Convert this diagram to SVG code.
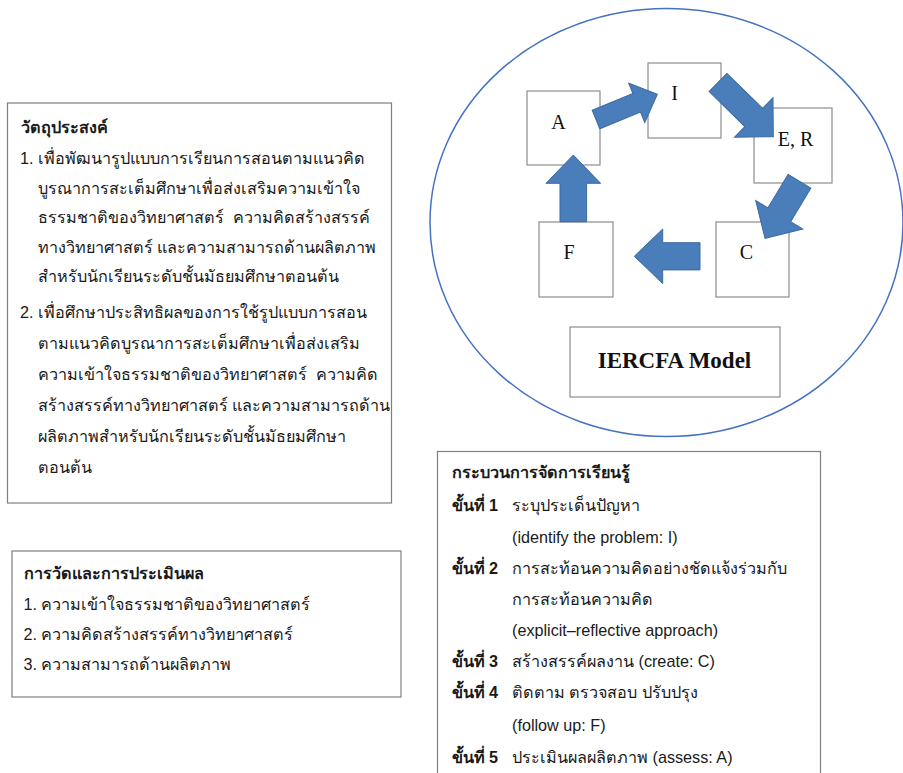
<svg xmlns="http://www.w3.org/2000/svg" width="903" height="773" viewBox="0 0 903 773">
<style>
.box{fill:#fff;stroke:#7f7f7f;stroke-width:1.2}
.sq{fill:#fff;stroke:#8c8c8c;stroke-width:1.2}
.t{font-family:"Liberation Sans","Noto Sans",sans-serif;font-size:16.2px;fill:#1a1a1a;white-space:pre}
.b{font-weight:bold}
.s{font-family:"Liberation Serif",serif;font-size:20px;fill:#111;text-anchor:middle}
.arr{fill:#4a7ebb;stroke:#3c69a0;stroke-width:1}
</style>
<rect width="903" height="773" fill="#fff"/>
<ellipse id="model-circle" cx="666.5" cy="222.5" rx="236.5" ry="214" fill="none" stroke="#4472c4" stroke-width="1.5"/>
<g id="objectives">
<rect class="box" x="7.5" y="103" width="384" height="400"/>
<text class="t b" x="21" y="133">วัตถุประสงค์</text>
<text class="t" x="20" y="164">1. เพื่อพัฒนารูปแบบการเรียนการสอนตามแนวคิด</text>
<text class="t" x="38" y="193.5">บูรณาการสะเต็มศึกษาเพื่อส่งเสริมความเข้าใจ</text>
<text class="t" x="38" y="223">ธรรมชาติของวิทยาศาสตร์  ความคิดสร้างสรรค์</text>
<text class="t" x="38" y="252.5">ทางวิทยาศาสตร์ และความสามารถด้านผลิตภาพ</text>
<text class="t" x="38" y="282">สำหรับนักเรียนระดับชั้นมัธยมศึกษาตอนต้น</text>
<text class="t" x="20" y="318">2. เพื่อศึกษาประสิทธิผลของการใช้รูปแบบการสอน</text>
<text class="t" x="38" y="349">ตามแนวคิดบูรณาการสะเต็มศึกษาเพื่อส่งเสริม</text>
<text class="t" x="38" y="380">ความเข้าใจธรรมชาติของวิทยาศาสตร์  ความคิด</text>
<text class="t" x="38" y="411">สร้างสรรค์ทางวิทยาศาสตร์ และความสามารถด้าน</text>
<text class="t" x="38" y="442">ผลิตภาพสำหรับนักเรียนระดับชั้นมัธยมศึกษา</text>
<text class="t" x="38" y="473">ตอนต้น</text>
</g>
<g id="evaluation">
<rect class="box" x="12" y="551" width="389" height="146"/>
<text class="t b" x="23.5" y="579">การวัดและการประเมินผล</text>
<text class="t" x="23.5" y="610">1. ความเข้าใจธรรมชาติของวิทยาศาสตร์</text>
<text class="t" x="23.5" y="640">2. ความคิดสร้างสรรค์ทางวิทยาศาสตร์</text>
<text class="t" x="23.5" y="670">3. ความสามารถด้านผลิตภาพ</text>
</g>
<g id="process">
<rect class="box" x="437.5" y="451.5" width="383" height="340"/>
<text class="t b" x="451.5" y="478">กระบวนการจัดการเรียนรู้</text>
<text class="t b" x="451.5" y="511">ขั้นที่ 1</text>
<text class="t" x="512" y="511">ระบุประเด็นปัญหา</text>
<text class="t" x="512" y="543">(identify the problem: I)</text>
<text class="t b" x="451.5" y="574">ขั้นที่ 2</text>
<text class="t" x="512" y="574">การสะท้อนความคิดอย่างชัดแจ้งร่วมกับ</text>
<text class="t" x="512" y="605">การสะท้อนความคิด</text>
<text class="t" x="512" y="636">(explicit–reflective approach)</text>
<text class="t b" x="451.5" y="667">ขั้นที่ 3</text>
<text class="t" x="512" y="667">สร้างสรรค์ผลงาน (create: C)</text>
<text class="t b" x="451.5" y="698">ขั้นที่ 4</text>
<text class="t" x="512" y="698">ติดตาม ตรวจสอบ ปรับปรุง</text>
<text class="t" x="512" y="731">(follow up: F)</text>
<text class="t b" x="451.5" y="763">ขั้นที่ 5</text>
<text class="t" x="512" y="763">ประเมินผลผลิตภาพ (assess: A)</text>
</g>
<g id="node-A"><rect class="sq" x="527" y="91" width="73" height="74"/><text class="s" x="558.5" y="128.5">A</text></g>
<g id="node-I"><rect class="sq" x="648" y="63" width="73" height="75"/><text class="s" x="674.5" y="99.5">I</text></g>
<g id="node-ER"><rect class="sq" x="754" y="108" width="78" height="75"/><text class="s" x="795.5" y="145.5">E, R</text></g>
<g id="node-C"><rect class="sq" x="716" y="222" width="73" height="75"/><text class="s" x="746.5" y="258.5">C</text></g>
<g id="node-F"><rect class="sq" x="539" y="222" width="74" height="75"/><text class="s" x="569" y="258.5">F</text></g>
<g id="node-model"><rect class="sq" x="570" y="327" width="210" height="70"/><text class="s" x="674.5" y="367.5" style="font-size:23px;font-weight:bold">IERCFA Model</text></g>
<g id="connectors">
<polygon class="arr" transform="translate(596,119.5) rotate(-22.3)" points="0,-10 44,-10 44,-21.2 66.3,0 44,21.2 44,10 0,10"/>
<polygon class="arr" transform="translate(718,82.5) rotate(44.4)" points="0,-12.7 50,-12.7 50,-27.5 77.4,0 50,27.5 50,12.7 0,12.7"/>
<polygon class="arr" transform="translate(799.5,181.2) rotate(121.1)" points="0,-13.3 39.2,-13.3 39.2,-27.5 66.7,0 39.2,27.5 39.2,13.3 0,13.3"/>
<polygon class="arr" transform="translate(700,256.3) rotate(180)" points="0,-13.6 37.3,-13.6 37.3,-27.3 65.7,0 37.3,27.3 37.3,13.6 0,13.6"/>
<polygon class="arr" transform="translate(573.3,221.7) rotate(-90)" points="0,-13.3 38.4,-13.3 38.4,-27.3 66.7,0 38.4,27.3 38.4,13.3 0,13.3"/>
</g>
</svg>
